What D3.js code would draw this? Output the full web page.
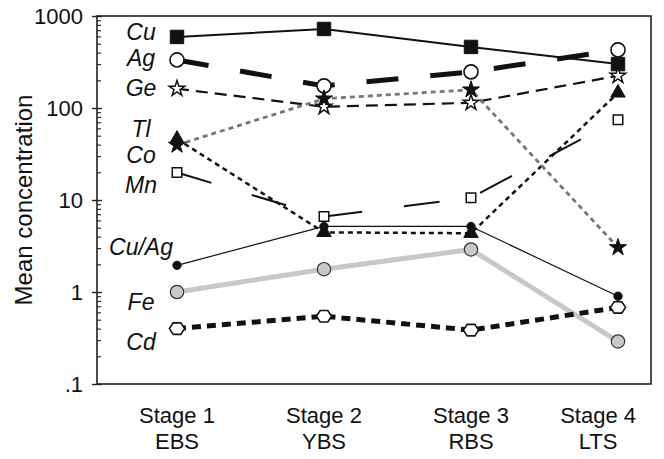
<!DOCTYPE html>
<html>
<head>
<meta charset="utf-8">
<script src="https://cdn.jsdelivr.net/npm/d3@7"></script>
<style>
  html, body { margin: 0; padding: 0; background: #fff; }
  svg { display: block; font-family: "Liberation Sans", Arial, Helvetica, sans-serif; }
</style>
</head>
<body>
<svg id="chart" width="664" height="459"></svg>
<script>
// ---------- data ----------
const stages = ["Stage 1", "Stage 2", "Stage 3", "Stage 4"];
const stageCodes = ["EBS", "YBS", "RBS", "LTS"];
const yTicks = [0.1, 1, 10, 100, 1000];
const yTickLabels = [".1", "1", "10", "100", "1000"];

const cu   = [592, 723, 461, 300];
const ag   = [333, 174, 247, 428];
const ge   = [162, 103, 114, 224];
const tl   = [46, 4.45, 4.35, 146];
const co   = [39.6, 126, 158, 3.05];
const mn   = [19.9, 6.6, 10.6, 74.6];
const cuag = [1.95, 5.16, 5.16, 0.90];
const fe   = [1.0, 1.77, 2.9, 0.29];
const cd   = [0.40, 0.545, 0.385, 0.68];

// ---------- layout ----------
const W = 664, H = 459;
const plot = { left: 97, right: 651, top: 16, bottom: 384 };
const svg = d3.select("#chart");

const x = d3.scalePoint().domain(stages).range([177, 618]);
const y = d3.scaleLog().domain([0.1, 1000]).range([plot.bottom, plot.top]);

// hexagon symbol
const symbolHex = {
  draw(ctx, size) {
    const r = Math.sqrt(2 * size / (3 * Math.sqrt(3)));
    for (let i = 0; i < 6; i++) {
      const a = i * Math.PI / 3;
      const px = r * Math.cos(a), py = r * Math.sin(a) * 0.87;
      if (i === 0) ctx.moveTo(px, py); else ctx.lineTo(px, py);
    }
    ctx.closePath();
  }
};

// series styles (label text/position are annotation layout)
const series = [
  { name: "Ag", values: ag, stroke: "#111", width: 5, dash: "32,32",
    sym: d3.symbolCircle, size: 155, fill: "#fff", sStroke: "#111", sw: 1.6, ly: 66 },
  { name: "Cu", values: cu, stroke: "#111", width: 2, dash: null,
    sym: d3.symbolSquare, size: 180, fill: "#111", sStroke: "#111", sw: 1, ly: 40 },
  { name: "Ge", values: ge, stroke: "#111", width: 2.2, dash: "12,7",
    sym: d3.symbolStar, size: 75, fill: "#fff", sStroke: "#111", sw: 1.5, ly: 96 },
  { name: "Mn", values: mn, stroke: "#111", width: 2, dash: "36,42",
    sym: d3.symbolSquare, size: 90, fill: "#fff", sStroke: "#111", sw: 1.5, ly: 193 },
  { name: "Tl", values: tl, stroke: "#111", width: 2.5, dash: "5,4",
    sym: d3.symbolTriangle, size: 90, fill: "#111", sStroke: "#111", sw: 1, ly: 137 },
  { name: "Co", values: co, stroke: "#777", width: 2.8, dash: "5,4",
    sym: d3.symbolStar, size: 90, fill: "#111", sStroke: "#111", sw: 1, ly: 163 },
  { name: "Cu/Ag", values: cuag, stroke: "#111", width: 1.2, dash: null,
    sym: d3.symbolCircle, size: 55, fill: "#111", sStroke: "#111", sw: 1, ly: 255 },
  { name: "Fe", values: fe, stroke: "#c8c8c8", width: 5, dash: null,
    sym: d3.symbolCircle, size: 140, fill: "#c8c8c8", sStroke: "#333", sw: 1.2, ly: 310 },
  { name: "Cd", values: cd, stroke: "#111", width: 5, dash: "9,6",
    sym: symbolHex, size: 150, fill: "#fff", sStroke: "#111", sw: 1.6, ly: 350 }
];

// ---------- frame ----------
svg.append("rect")
  .attr("x", plot.left).attr("y", plot.top)
  .attr("width", plot.right - plot.left).attr("height", plot.bottom - plot.top)
  .attr("fill", "none").attr("stroke", "#222").attr("stroke-width", 1.6);

// ---------- y axis ----------
const minor = [];
for (let e = -1; e < 3; e++) for (let k = 2; k <= 9; k++) minor.push(k * Math.pow(10, e));

const axOut = svg.append("g").attr("transform", `translate(${plot.left},0)`)
  .call(d3.axisLeft(y).tickValues(yTicks).tickSize(5).tickPadding(9)
    .tickFormat((d, i) => yTickLabels[i]));
axOut.select(".domain").remove();
axOut.selectAll("line").attr("stroke", "#222").attr("stroke-width", 1.4);
axOut.selectAll("text").attr("font-size", 22).attr("fill", "#111");

const axIn = svg.append("g").attr("transform", `translate(${plot.left},0)`)
  .call(d3.axisRight(y).tickValues(yTicks).tickSize(5).tickFormat(""));
axIn.select(".domain").remove();
axIn.selectAll("line").attr("stroke", "#222").attr("stroke-width", 1.4);

const axMinor = svg.append("g").attr("transform", `translate(${plot.left},0)`)
  .call(d3.axisRight(y).tickValues(minor).tickSize(4).tickFormat(""));
axMinor.select(".domain").remove();
axMinor.selectAll("line").attr("stroke", "#222").attr("stroke-width", 1.1);

// axis title
svg.append("text")
  .attr("transform", `translate(32,200) rotate(-90)`)
  .attr("text-anchor", "middle")
  .attr("font-size", 24).attr("fill", "#111")
  .text("Mean concentration");

// ---------- x labels ----------
const xl = svg.append("g");
stages.forEach((s, i) => {
  const g = xl.append("g");
  const t1 = g.append("text").attr("y", 423).attr("text-anchor", "middle")
    .attr("font-size", 22).attr("fill", "#111").text(s);
  const t2 = g.append("text").attr("y", 449).attr("text-anchor", "middle")
    .attr("font-size", 22).attr("fill", "#111").text(stageCodes[i]);
  const half = t1.node().getComputedTextLength() / 2;
  const cx = Math.min(x(s), W - 28 - half);
  t1.attr("x", cx); t2.attr("x", cx);
});

// ---------- lines ----------
const line = d3.line().x((d, i) => x(stages[i])).y(d => y(d));
svg.append("g").selectAll("path").data(series).join("path")
  .attr("d", d => line(d.values))
  .attr("fill", "none")
  .attr("stroke", d => d.stroke)
  .attr("stroke-width", d => d.width)
  .attr("stroke-dasharray", d => d.dash)
  .attr("stroke-linejoin", "round");

// ---------- markers ----------
const mk = svg.append("g");
series.forEach(s => {
  mk.append("g").selectAll("path").data(s.values).join("path")
    .attr("transform", (d, i) => `translate(${x(stages[i])},${y(d)})`)
    .attr("d", d3.symbol().type(s.sym).size(s.size))
    .attr("fill", s.fill)
    .attr("stroke", s.sStroke)
    .attr("stroke-width", s.sw)
    .attr("stroke-linejoin", "miter");
});

// ---------- element labels ----------
svg.append("g").selectAll("text").data(series).join("text")
  .attr("x", 141).attr("y", d => d.ly)
  .attr("text-anchor", "middle")
  .attr("font-size", 23).attr("font-style", "italic").attr("fill", "#111")
  .text(d => d.name);
</script>
</body>
</html>
